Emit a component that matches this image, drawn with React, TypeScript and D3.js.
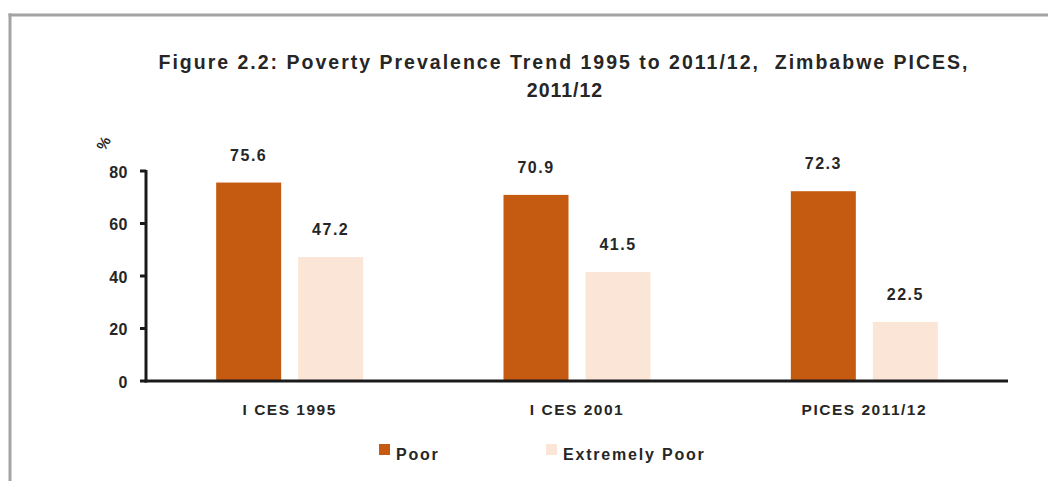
import React from "react";
import * as d3 from "d3";

const categories = ["I CES 1995", "I CES 2001", "PICES 2011/12"];
const seriesNames = ["Poor", "Extremely Poor"];
const poorValues = [75.6, 70.9, 72.3];
const extremeValues = [47.2, 41.5, 22.5];
const yTicks = [0, 20, 40, 60, 80];
const titleLines = [
  "Figure 2.2: Poverty Prevalence Trend 1995 to 2011/12,\u00a0 Zimbabwe PICES,",
  "2011/12",
];
const colors = ["#C55A11", "#FBE5D6"];

const W = 1048;
const H = 481;
const FONT = "'Liberation Sans', Arial, sans-serif";
const TEXT = "#262626";

export default function App() {
  const x0 = 146;
  const x1 = 1008;
  const yBase = 381;
  const yTop = 171;

  const x = d3.scaleBand<string>().domain(categories).range([x0, x1]).paddingInner(0).paddingOuter(0);
  const inner = d3
    .scaleBand<string>()
    .domain(seriesNames)
    .range([0, 147])
    .paddingInner(17 / 82)
    .paddingOuter(0);
  const y = d3.scaleLinear().domain([0, 80]).range([yBase, yTop]);

  const series = [poorValues, extremeValues];

  return (
    <svg
      width={W}
      height={H}
      style={{ position: "absolute", left: 0, top: 0, background: "#fff" }}
      fontFamily={FONT}
    >
      <rect x={0} y={0} width={W} height={H} fill="#fff" />
      {/* frame */}
      <line x1={8.5} y1={15} x2={W} y2={15} stroke="#a3a3a6" strokeWidth={3} />
      <line x1={10} y1={13.5} x2={10} y2={H} stroke="#a3a3a6" strokeWidth={3} />

      {/* title */}
      <text x={563} y={69} textAnchor="middle" fontSize={19.5} fontWeight="bold" fill={TEXT}
        textLength={809} lengthAdjust="spacing">
        {titleLines[0]}
      </text>
      <text x={565} y={97} textAnchor="middle" fontSize={19.5} fontWeight="bold" fill={TEXT}
        letterSpacing={1}>
        {titleLines[1]}
      </text>

      {/* bars */}
      {categories.map((c, ci) => {
        const gx = (x(c) as number) + x.bandwidth() / 2 - 147 / 2;
        return (
          <g key={c}>
            {seriesNames.map((s, si) => {
              const v = series[si][ci];
              const bx = gx + (inner(s) as number);
              const by = y(v);
              return (
                <g key={s}>
                  <rect x={bx} y={by} width={inner.bandwidth()} height={yBase - by} fill={colors[si]} />
                  <text
                    x={bx + inner.bandwidth() / 2}
                    y={by - 22}
                    textAnchor="middle"
                    fontSize={16}
                    fontWeight="bold"
                    fill={TEXT}
                    letterSpacing={1.5}
                  >
                    {v.toFixed(1)}
                  </text>
                </g>
              );
            })}
          </g>
        );
      })}

      {/* y axis */}
      <line x1={x0} y1={yTop - 1} x2={x0} y2={yBase + 1.5} stroke="#1a1a1a" strokeWidth={3} />
      {yTicks.map((t) => (
        <g key={t}>
          <line x1={140} y1={y(t)} x2={x0} y2={y(t)} stroke="#1a1a1a" strokeWidth={3} />
          <text x={128} y={y(t) + 6.5} textAnchor="end" fontSize={16} fontWeight="bold" fill={TEXT}
            letterSpacing={0.5}>
            {t}
          </text>
        </g>
      ))}
      <text
        transform={`translate(108,146) rotate(-60)`}
        textAnchor="middle"
        fontSize={15}
        fontWeight="bold"
        fill={TEXT}
      >
        %
      </text>

      {/* x axis */}
      <line x1={x0 - 1.5} y1={yBase} x2={x1} y2={yBase} stroke="#1a1a1a" strokeWidth={3} />
      {categories.map((c) => (
        <text
          key={c}
          x={(x(c) as number) + x.bandwidth() / 2}
          y={415}
          textAnchor="middle"
          fontSize={15.5}
          fontWeight="bold"
          fill={TEXT}
          letterSpacing={1.5}
        >
          {c}
        </text>
      ))}

      {/* legend */}
      {seriesNames.map((s, i) => {
        const lx = i === 0 ? 379 : 546;
        return (
          <g key={s}>
            <rect x={lx} y={444} width={11} height={11} fill={colors[i]} />
            <text x={lx + 17} y={460} fontSize={16} fontWeight="bold" fill={TEXT} letterSpacing={1.8}>
              {s}
            </text>
          </g>
        );
      })}
    </svg>
  );
}
